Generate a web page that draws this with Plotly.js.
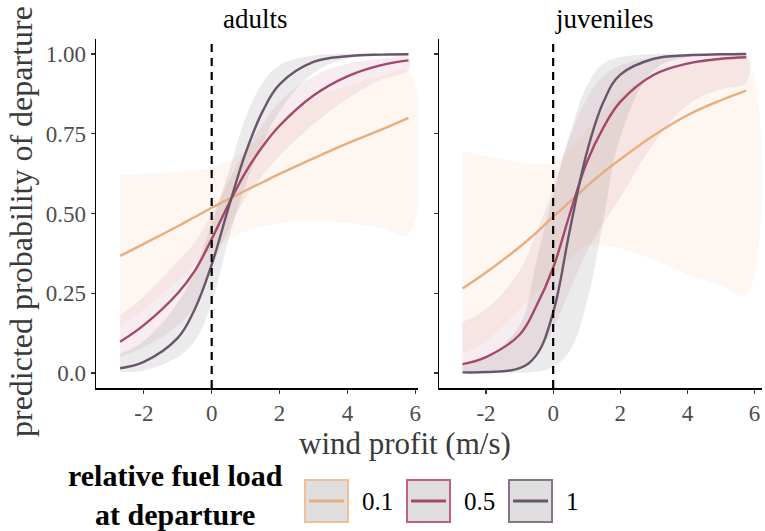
<!DOCTYPE html>
<html><head><meta charset="utf-8">
<script src="https://cdn.plot.ly/plotly-3.0.1.min.js"></script>
<style>html,body{margin:0;padding:0;background:#fff}</style>
</head><body><div id="chart" style="width:765px;height:531px"></div>
<script>
// ---- data ----
const panels = ["adults", "juveniles"];
const fuelLevels = ["0.1", "0.5", "1"];
const xTicks = [-2, 0, 2, 4, 6];
const xTickLabels = ["-2", "0", "2", "4", "6"];
const yTicks = [0, 0.25, 0.5, 0.75, 1];
const yTickLabels = ["0.0", "0.25", "0.50", "0.75", "1.00"];
const refWind = 0;

const windAdults = [-2.7, -2, -1, -0.5, 0, 0.5, 1, 1.5, 2, 3, 4, 5, 5.8];
const adultFuel01   = [0.367, 0.405, 0.46, 0.489, 0.518, 0.545, 0.572, 0.598, 0.624, 0.673, 0.72, 0.763, 0.80];
const adultFuel01Lo = [0.15, 0.20, 0.29, 0.34, 0.39, 0.42, 0.445, 0.46, 0.47, 0.475, 0.47, 0.455, 0.435];
const adultFuel01Hi = [0.62, 0.625, 0.63, 0.635, 0.645, 0.665, 0.70, 0.745, 0.79, 0.86, 0.90, 0.93, 0.945];
const adultFuel05   = [0.098, 0.15, 0.25, 0.32, 0.42, 0.53, 0.63, 0.71, 0.775, 0.87, 0.93, 0.965, 0.98];
const adultFuel05Lo = [0.05, 0.08, 0.15, 0.21, 0.33, 0.45, 0.55, 0.62, 0.68, 0.78, 0.86, 0.92, 0.95];
const adultFuel05Hi = [0.18, 0.24, 0.35, 0.41, 0.50, 0.60, 0.70, 0.78, 0.85, 0.93, 0.97, 0.985, 0.99];
const adultFuel1    = [0.015, 0.035, 0.11, 0.20, 0.34, 0.52, 0.69, 0.82, 0.905, 0.975, 0.993, 0.998, 0.999];
const adultFuel1Lo  = [0.003, 0.008, 0.05, 0.10, 0.22, 0.42, 0.59, 0.72, 0.82, 0.94, 0.985, 0.995, 0.998];
const adultFuel1Hi  = [0.06, 0.10, 0.22, 0.32, 0.47, 0.63, 0.80, 0.91, 0.965, 0.995, 1.0, 1.0, 1.0];

const windJuveniles = [-2.7, -2, -1, -0.5, 0, 0.5, 1, 1.5, 2, 3, 4, 5, 5.75];
const juvFuel01   = [0.265, 0.315, 0.395, 0.44, 0.49, 0.537, 0.585, 0.63, 0.67, 0.745, 0.808, 0.855, 0.885];
const juvFuel01Lo = [0.06, 0.10, 0.20, 0.25, 0.30, 0.36, 0.40, 0.40, 0.39, 0.355, 0.31, 0.275, 0.245];
const juvFuel01Hi = [0.695, 0.68, 0.66, 0.655, 0.66, 0.70, 0.76, 0.82, 0.87, 0.94, 0.97, 0.985, 0.99];
const juvFuel05   = [0.028, 0.05, 0.12, 0.21, 0.33, 0.50, 0.66, 0.77, 0.85, 0.935, 0.97, 0.985, 0.99];
const juvFuel05Lo = [0.005, 0.008, 0.02, 0.06, 0.14, 0.26, 0.38, 0.47, 0.55, 0.72, 0.84, 0.89, 0.91];
const juvFuel05Hi = [0.16, 0.20, 0.32, 0.44, 0.58, 0.74, 0.86, 0.93, 0.965, 0.99, 0.997, 0.999, 1.0];
const juvFuel1    = [0.002, 0.003, 0.015, 0.056, 0.19, 0.45, 0.69, 0.85, 0.935, 0.985, 0.996, 0.999, 1.0];
const juvFuel1Lo  = [0.0, 0.0, 0.001, 0.005, 0.02, 0.07, 0.22, 0.48, 0.74, 0.95, 0.99, 0.998, 1.0];
const juvFuel1Hi  = [0.03, 0.05, 0.15, 0.35, 0.56, 0.75, 0.90, 0.97, 0.99, 1.0, 1.0, 1.0, 1.0];

// ---- styles ----
const lineColors = ["#E9AD7E", "#A4486A", "#6A566B"];
const fillColors = ["rgba(242,170,115,0.11)", "rgba(175,80,110,0.10)", "rgba(125,120,130,0.15)"];
const boxBorders = ["#F2BE96", "#C0627D", "#887489"];
const FONT = "Liberation Serif";

const groups = [
  {x: windAdults, ax: ["x", "y"], series: [
    [adultFuel01, adultFuel01Lo, adultFuel01Hi],
    [adultFuel05, adultFuel05Lo, adultFuel05Hi],
    [adultFuel1, adultFuel1Lo, adultFuel1Hi]]},
  {x: windJuveniles, ax: ["x2", "y2"], series: [
    [juvFuel01, juvFuel01Lo, juvFuel01Hi],
    [juvFuel05, juvFuel05Lo, juvFuel05Hi],
    [juvFuel1, juvFuel1Lo, juvFuel1Hi]]}
];

const traces = [];
groups.forEach(g => {
  g.series.forEach((s, i) => {
    traces.push({
      x: g.x.concat(g.x.slice().reverse()),
      y: s[1].concat(s[2].slice().reverse()),
      xaxis: g.ax[0], yaxis: g.ax[1],
      type: "scatter", mode: "lines", fill: "toself",
      fillcolor: fillColors[i], line: {width: 0, shape: "spline", smoothing: 1.1},
      hoverinfo: "skip", showlegend: false
    });
  });
});
groups.forEach(g => {
  g.series.forEach((s, i) => {
    traces.push({
      x: g.x, y: s[0], xaxis: g.ax[0], yaxis: g.ax[1],
      type: "scatter", mode: "lines",
      line: {color: lineColors[i], width: 2.4, shape: "spline", smoothing: 1.1},
      name: fuelLevels[i], showlegend: false
    });
  });
});

const W = 765, H = 531;
const px = v => v / W;
const py = v => 1 - v / H;

const axisCommon = {
  showline: true, linecolor: "#000", linewidth: 1.5, zeroline: false, showgrid: false,
  ticks: "outside", ticklen: 4, tickwidth: 1.2, tickcolor: "#333",
  tickfont: {family: FONT, size: 23, color: "#4D4D4D"}
};

const shapes = [];
["x", "x2"].forEach((xr, k) => {
  shapes.push({type: "line", xref: xr, yref: (k ? "y2" : "y") + " domain",
    x0: refWind, x1: refWind, y0: 0, y1: 1,
    line: {color: "#000", width: 2.2, dash: "8px,6px"}});
});
const boxLeft = [305, 407, 509];
const annotations = [];
fuelLevels.forEach((lab, i) => {
  const x0 = boxLeft[i], x1 = x0 + 43, y0 = 480, y1 = 522;
  shapes.push({type: "rect", xref: "paper", yref: "paper",
    x0: px(x0), x1: px(x1), y0: py(y1), y1: py(y0),
    fillcolor: "#DEDEDE", line: {color: boxBorders[i], width: 2}});
  shapes.push({type: "line", xref: "paper", yref: "paper",
    x0: px(x0 + 4), x1: px(x1 - 4), y0: py(501), y1: py(501),
    line: {color: lineColors[i], width: 3}});
  annotations.push({xref: "paper", yref: "paper", x: px(x1 + 12), y: py(501),
    xanchor: "left", yanchor: "middle", showarrow: false, text: lab,
    font: {family: FONT, size: 25, color: "#000"}});
});
annotations.push({xref: "paper", yref: "paper", x: px(175), y: py(495),
  xanchor: "center", yanchor: "middle", showarrow: false, align: "center",
  text: "<b>relative fuel load<br>at departure</b>",
  font: {family: FONT, size: 30, color: "#000"}});
annotations.push({xref: "paper", yref: "paper", x: px(256), y: py(19),
  xanchor: "center", yanchor: "middle", showarrow: false, text: panels[0],
  font: {family: FONT, size: 27, color: "#000"}});
annotations.push({xref: "paper", yref: "paper", x: px(604), y: py(19),
  xanchor: "center", yanchor: "middle", showarrow: false, text: panels[1],
  font: {family: FONT, size: 27, color: "#000"}});
annotations.push({xref: "paper", yref: "paper", x: px(405), y: py(443),
  xanchor: "center", yanchor: "middle", showarrow: false, text: "wind profit (m/s)",
  font: {family: FONT, size: 31, color: "#3A3A3A"}});
annotations.push({xref: "paper", yref: "paper", x: px(21), y: py(222),
  xanchor: "center", yanchor: "middle", showarrow: false, textangle: -90,
  text: "predicted probability of departure",
  font: {family: FONT, size: 32, color: "#3A3A3A"}});

const layout = {
  width: W, height: H, margin: {l: 0, r: 0, t: 0, b: 0},
  paper_bgcolor: "#fff", plot_bgcolor: "#fff", showlegend: false,
  font: {family: FONT},
  xaxis: Object.assign({}, axisCommon, {domain: [px(96), px(418)], range: [-3.41, 6.08],
    tickvals: xTicks, ticktext: xTickLabels, anchor: "y"}),
  xaxis2: Object.assign({}, axisCommon, {domain: [px(439), px(762)], range: [-3.40, 6.22],
    tickvals: xTicks, ticktext: xTickLabels, anchor: "y2"}),
  yaxis: Object.assign({}, axisCommon, {domain: [py(388), py(39)], range: [-0.047, 1.047],
    tickvals: yTicks, ticktext: yTickLabels, anchor: "x"}),
  yaxis2: Object.assign({}, axisCommon, {domain: [py(388), py(39)], range: [-0.047, 1.047],
    tickvals: yTicks, showticklabels: false, anchor: "x2"}),
  shapes: shapes, annotations: annotations
};

Plotly.newPlot("chart", traces, layout, {displayModeBar: false, staticPlot: true});
</script>
</body></html>
